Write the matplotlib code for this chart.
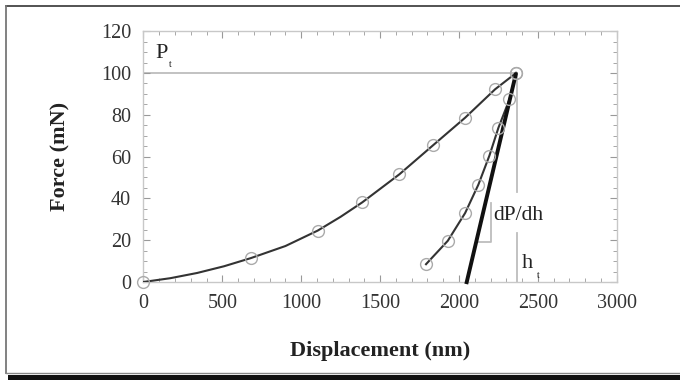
import matplotlib
matplotlib.use("Agg")
import matplotlib.pyplot as plt
from matplotlib.lines import Line2D
from matplotlib.patches import Rectangle

# datos
carga_x = [0, 680, 1105, 1387, 1622, 1834, 2039, 2229, 2362]
carga_y = [0, 11.4, 24.6, 38.1, 51.5, 65.3, 78.6, 92.2, 100]
linea_carga_x = [0, 170, 340, 510, 680, 900, 1105, 1250, 1387, 1622, 1834,
                 2039, 2229, 2362]
linea_carga_y = [0, 1.8, 4.3, 7.5, 11.4, 17.2, 24.6, 31.2, 38.1, 51.5, 65.3,
                 78.6, 92.2, 100]
descarga_x = [1791, 1929, 2039, 2123, 2193, 2250, 2320, 2362]
descarga_y = [8.5, 19.7, 33, 46.6, 60.5, 73.8, 87.4, 100]
tangente_x = [2046, 2362]
tangente_y = [-1, 100]
triangulo_x = [2107, 2203, 2203]
triangulo_y = [19.2, 19.2, 38]
pt_h = 2365

gris = "#bdbdbd"
plt.rcParams["font.family"] = ["Liberation Serif", "DejaVu Serif"]

fig = plt.figure(figsize=(6.8, 3.8), dpi=100)
ax = fig.add_axes([0.211, 0.258, 0.696, 0.660])

# lineas guia grises
ax.plot([0, pt_h], [100, 100], color=gris, lw=1.3, zorder=1)
ax.plot([pt_h, pt_h], [100, 43], color=gris, lw=1.3, zorder=1)
ax.plot([pt_h, pt_h], [23.3, 0], color=gris, lw=1.3, zorder=1)
ax.plot(triangulo_x, triangulo_y, color=gris, lw=1.3, zorder=1)

# curvas
ax.plot(linea_carga_x, linea_carga_y, color="#333333", lw=1.5, zorder=3)
ax.plot(descarga_x, descarga_y, color="#333333", lw=1.5, zorder=3)
ax.plot(tangente_x, tangente_y, color="#111111", lw=2.8, zorder=4,
        solid_capstyle="butt", clip_on=False)
ax.plot(carga_x, carga_y, "o", mfc="none", mec="#aaaaaa", ms=8.5, mew=1.0,
        zorder=5, clip_on=False)
ax.plot(descarga_x, descarga_y, "o", mfc="none", mec="#aaaaaa", ms=8.5,
        mew=1.0, zorder=5)

# textos
ax.text(76, 107, "P", fontsize=16, color="#222222")
ax.text(163, 102.8, "t", fontsize=7, color="#222222")
ax.text(2395, 6.5, "h", fontsize=16, color="#222222")
ax.text(2495, 1.8, "t", fontsize=7, color="#222222")
ax.text(2215, 32, "dP/dh", fontsize=15.5, color="#222222", va="center")

ax.set_xlim(0, 3000)
ax.set_ylim(0, 120)
ax.set_xticks(range(0, 3001, 500))
ax.set_xticks(range(0, 3001, 100), minor=True)
ax.set_yticks(range(0, 121, 20))
ax.set_yticks(range(0, 121, 5), minor=True)
ax.tick_params(which="both", direction="in", top=True, right=True,
               color="#999999", labelsize=14.5, labelcolor="#333333")
ax.tick_params(which="major", length=5, width=0.8)
ax.tick_params(which="minor", length=3, width=0.6)
ax.tick_params(axis="x", pad=9)
ax.tick_params(axis="y", pad=9)
for lado in ax.spines.values():
    lado.set_color("#c8c8c8")
    lado.set_linewidth(1.0)

ax.set_xlabel("Displacement (nm)", fontsize=16, fontweight="bold",
              color="#222222", labelpad=20)
ax.set_ylabel("Force (mN)", fontsize=16, fontweight="bold",
              color="#222222", labelpad=22)

# marco de la figura
W, H = 680.0, 380.0
fig.add_artist(Line2D([6 / W, 1], [1 - 5.5 / H, 1 - 5.5 / H],
                      transform=fig.transFigure, color="#444444", lw=1.3))
fig.add_artist(Line2D([6 / W, 6 / W], [1 - 5.5 / H, 1 - 373 / H],
                      transform=fig.transFigure, color="#777777", lw=1.3))
fig.add_artist(Line2D([6 / W, 1], [1 - 373 / H, 1 - 373 / H],
                      transform=fig.transFigure, color="#888888", lw=1.0))
fig.add_artist(Rectangle((8 / W, 0), 1, 5 / H, transform=fig.transFigure,
                         color="#111111", lw=0))

fig.savefig("out.png", dpi=100)
plt.close(fig)
